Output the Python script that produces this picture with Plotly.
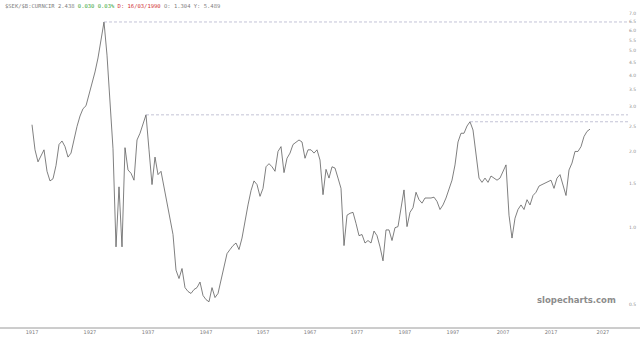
import plotly.graph_objects as go

# ---- data (one value per chart bar) ----
ratio_1917_1947 = [2.55, 2.03, 1.82, 1.92, 2.03, 1.67, 1.53, 1.56, 1.76, 2.13,
                   2.20, 2.09, 1.90, 1.97, 2.26, 2.51, 2.76, 2.95, 3.03, 3.34,
                   3.66, 4.12, 4.68, 5.50, 6.49, 4.80, 3.28, 2.05, 0.84, 1.45,
                   0.84, 2.07, 1.69, 1.64, 1.54, 2.22, 2.36, 2.55, 2.79, 2.03,
                   1.48, 1.90, 1.62, 1.67, 1.45, 1.23, 1.10, 0.94, 0.68, 0.63,
                   0.69, 0.58, 0.56, 0.55, 0.57, 0.58, 0.61, 0.54, 0.52, 0.51,
                   0.58, 0.53, 0.55]
ratio_1947_1987 = [0.62, 0.70, 0.79, 0.82, 0.85, 0.87, 0.82, 0.91, 1.07, 1.23,
                   1.40, 1.53, 1.48, 1.33, 1.43, 1.74, 1.79, 1.74, 1.67, 2.00,
                   2.09, 1.65, 1.88, 1.97, 2.13, 2.18, 2.22, 2.18, 1.88, 2.03,
                   2.03, 1.97, 2.03, 1.85, 1.35, 1.70, 1.57, 1.74, 1.72, 1.57,
                   1.43, 0.85, 1.12, 1.14, 1.15, 1.04, 0.93, 0.94, 0.87, 0.89,
                   0.87, 0.97, 0.93, 0.84, 0.74, 0.98, 0.98, 0.89, 1.00, 1.01,
                   1.21, 1.41, 1.01]
ratio_1987_2024 = [1.15, 1.20, 1.38, 1.29, 1.25, 1.31, 1.31, 1.31, 1.32, 1.27,
                   1.18, 1.23, 1.31, 1.43, 1.54, 1.77, 2.18, 2.36, 2.36, 2.52,
                   2.62, 2.43, 1.94, 1.57, 1.51, 1.57, 1.51, 1.60, 1.57, 1.54,
                   1.57, 1.66, 1.77, 1.12, 0.91, 1.09, 1.18, 1.23, 1.18, 1.29,
                   1.23, 1.34, 1.38, 1.46, 1.48, 1.50, 1.51, 1.54, 1.43, 1.57,
                   1.62, 1.48, 1.34, 1.69, 1.80, 2.00, 2.00, 2.09, 2.29, 2.40,
                   2.45]

year_labels = ["1917", "1927", "1937", "1947", "1957", "1967",
               "1977", "1987", "1997", "2007", "2017", "2027"]
year_bars = [0, 19.3, 38.7, 58, 77, 92.7, 108.3, 124.3, 140.3, 157, 173, 190.3]
y_ticks = [0.5, 1.0, 1.5, 2.0, 2.5, 3.0, 3.5, 4.0, 4.5, 5.0, 5.5, 6.0, 6.5, 7.0]

header_symbol = "$SEK/$B:CURNCIR 2.438"
header_change = "0.030 0.03%"
header_date = "D: 16/03/1990"
header_rest = "O: 1.304 Y: 5.489"

ratio = ratio_1917_1947 + ratio_1947_1987 + ratio_1987_2024
bars = list(range(len(ratio)))

X_RANGE = [-10.667, 198.667]

fig = go.Figure()
fig.add_trace(go.Scatter(x=bars, y=ratio, mode="lines",
                         line=dict(color="#555555", width=0.75),
                         hoverinfo="skip"))

# dashed lines from the major highs to the right edge
def peak(lo, hi):
    i = max(range(lo, hi), key=lambda k: ratio[k])
    return i, ratio[i]

for lo, hi in [(0, 30), (30, 60), (140, 170)]:
    i, v = peak(lo, hi)
    fig.add_trace(go.Scatter(x=[i, X_RANGE[1]], y=[v, v], mode="lines",
                             line=dict(color="#b4b4cc", width=0.8, dash="3px,2px"),
                             hoverinfo="skip"))

fig.update_layout(
    width=640, height=342,
    margin=dict(l=0, r=12, t=0, b=14),
    paper_bgcolor="white", plot_bgcolor="white",
    showlegend=False, hovermode=False,
    xaxis=dict(range=X_RANGE, showgrid=False, zeroline=False, showline=False,
               tickmode="array", tickvals=year_bars, ticktext=year_labels,
               ticks="", tickfont=dict(size=5, color="#808080",
                                       family="DejaVu Sans")),
    yaxis=dict(type="log", range=[-0.396, 0.899], side="right",
               showgrid=False, zeroline=False, showline=False,
               tickmode="array", tickvals=y_ticks,
               ticktext=[f"{t:.1f}" for t in y_ticks], ticks="",
               tickfont=dict(size=4.5, color="#909090",
                             family="DejaVu Sans")),
    shapes=[dict(type="line", xref="paper", yref="paper",
                 x0=0, x1=640 / 628, y0=0, y1=0,
                 line=dict(color="#9a9a9a", width=1))],
    annotations=[
        dict(xref="paper", yref="paper", x=3 / 628, y=(328 - 6) / 328,
             xanchor="left", yanchor="middle", showarrow=False,
             font=dict(family="DejaVu Sans Mono", size=5.5, color="#808080"),
             text=(f"{header_symbol} "
                   f"<span style='color:#3aa63a'>{header_change}</span> "
                   f"<span style='color:#d03030'>{header_date}</span> "
                   f"{header_rest}")),
        dict(xref="paper", yref="paper", x=576 / 628, y=(328 - 300) / 328,
             xanchor="center", yanchor="middle", showarrow=False,
             font=dict(family="DejaVu Sans", size=8.5, color="#8c8c8c"),
             text="<b>slopecharts.com</b>"),
    ],
)

fig.write_html("out.html")
